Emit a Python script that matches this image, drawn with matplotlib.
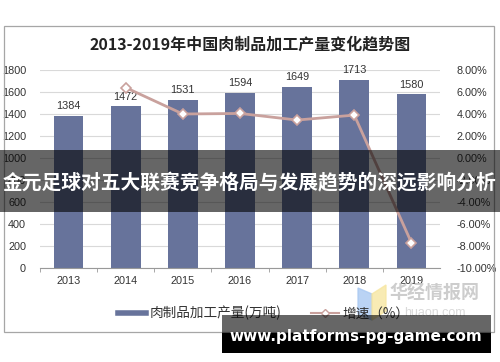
import matplotlib
matplotlib.use("Agg")
import matplotlib.pyplot as plt
from matplotlib.patches import Rectangle, Polygon
from matplotlib.lines import Line2D
from matplotlib.ticker import FuncFormatter, MultipleLocator

years = ["2013", "2014", "2015", "2016", "2017", "2018", "2019"]
output = [1384, 1472, 1531, 1594, 1649, 1713, 1580]
growth_years = ["2014", "2015", "2016", "2017", "2018", "2019"]
growth = [6.4, 4.0, 4.05, 3.45, 3.9, -7.7]

title = "2013-2019年中国肉制品加工产量变化趋势图"
legend_labels = ["肉制品加工产量(万吨)", "增速（%）"]
banner = "金元足球对五大联赛竞争格局与发展趋势的深远影响分析"
site = "www.platforms-pg-game.com"

W, H = 500, 362
BAR = "#67739b"
LINE = "#c9a19d"
CJK = ["Noto Sans CJK SC", "DejaVu Sans"]
NUM = ["Liberation Sans", "DejaVu Sans"]

def fx(x):
    return x / W

def fy(y):
    return 1 - y / H

fig = plt.figure(figsize=(5, 3.62), dpi=100)
fig.patch.set_facecolor("white")

# outer frame
fig.add_artist(Rectangle((fx(4), fy(332)), fx(490), (332 - 26) / H,
                         transform=fig.transFigure, fill=False,
                         edgecolor="#a6a6a6", linewidth=0.9))

ax = fig.add_axes([fx(40), fy(268), fx(400), (268 - 70) / H])
x = list(range(len(years)))
ax.bar(x, output, width=0.52, color=BAR, zorder=2)
ax.set_ylim(0, 1800)
ax.set_xlim(-0.5, len(years) - 0.5)
ax.yaxis.set_major_locator(MultipleLocator(200))
ax.grid(axis="y", color="#d9d9d9", linewidth=0.8, zorder=0)
for s in ["top", "right", "left"]:
    ax.spines[s].set_visible(False)
ax.spines["bottom"].set_color("#999999")
ax.tick_params(axis="y", length=0, pad=10, labelsize=7.8, labelcolor="#333333")
ax.set_xticks(x)
ax.set_xticklabels(years)
ax.tick_params(axis="x", length=0, pad=6, labelsize=7.8, labelcolor="#333333")
ax.set_xticks([i + 0.5 for i in x[:-1]] + [-0.5], minor=True)
ax.tick_params(axis="x", which="minor", length=3, color="#999999")
for lab in ax.get_xticklabels() + ax.get_yticklabels():
    lab.set_family(NUM)
for xi, v in zip(x, output):
    ax.text(xi, v + 40, str(v), ha="center", va="bottom", fontsize=7.8,
            family=NUM, color="#333333")

ax2 = ax.twinx()
gx = [years.index(y) for y in growth_years]
ax2.plot(gx, growth, color=LINE, linewidth=2, marker="D", markersize=5.5,
         markerfacecolor="white", markeredgecolor=LINE, markeredgewidth=1.2,
         zorder=3)
ax2.set_ylim(-10, 8)
ax2.yaxis.set_major_locator(MultipleLocator(2))
ax2.yaxis.set_major_formatter(FuncFormatter(lambda v, p: f"{v:.2f}%"))
for s in ["top", "right", "left", "bottom"]:
    ax2.spines[s].set_visible(False)
ax2.tick_params(axis="y", length=0, pad=12, labelsize=7.8, labelcolor="#333333")
for lab in ax2.get_yticklabels():
    lab.set_family(NUM)

fig.text(0.5, fy(45), title, ha="center", va="center", fontsize=11.5,
         fontweight="bold", family=CJK, color="#222222")

# legend
handles = [
    Line2D([0], [0], color=BAR, linewidth=4),
    Line2D([0], [0], color=LINE, linewidth=1.5, marker="D", markersize=4.5,
           markerfacecolor="white", markeredgecolor=LINE),
]
leg = fig.legend(handles, legend_labels, loc="center", ncol=2,
                 bbox_to_anchor=(fx(264), fy(313)), frameon=False,
                 prop={"family": CJK, "size": 9.8}, handlelength=2.0,
                 handletextpad=0.3, columnspacing=2.2)
for t in leg.get_texts():
    t.set_color("#333333")

# logo watermark
fig.add_artist(Polygon([[fx(358), fy(288)], [fx(372), fy(294)], [fx(372), fy(320)], [fx(358), fy(314)]],
                       closed=True, transform=fig.transFigure, color="#a9c9f2", alpha=0.8, zorder=5))
fig.add_artist(Polygon([[fx(372), fy(294)], [fx(386), fy(285)], [fx(386), fy(311)], [fx(372), fy(320)]],
                       closed=True, transform=fig.transFigure, color="#f7e6a2", alpha=0.8, zorder=5))
fig.text(fx(435), fy(293), "华经情报网", ha="center", va="center", fontsize=13,
         fontweight="bold", family=CJK, color="#c8c8c8", alpha=0.9, zorder=5)
fig.text(fx(435), fy(313), "huaon.com", ha="center", va="center", fontsize=9,
         family=NUM, color="#d9d9d9", zorder=5)

# banner
fig.add_artist(Rectangle((0, fy(212)), 1, (212 - 150) / H, transform=fig.transFigure,
                         facecolor="black", alpha=0.6, edgecolor="none", zorder=10))
fig.text(0.5, fy(183), banner, ha="center", va="center", fontsize=14.2,
         fontweight="bold", family=CJK, color="white", zorder=11)

# bottom site box
fig.add_artist(Rectangle((fx(222), fy(333)), fx(269), (333 - 315) / H, transform=fig.transFigure,
                         facecolor="black", alpha=0.6, edgecolor="none", zorder=10))
fig.add_artist(Rectangle((fx(222), fy(353)), fx(269), (353 - 333) / H, transform=fig.transFigure,
                         facecolor="black", edgecolor="none", zorder=10))
fig.text(fx(356), fy(337), site, ha="center", va="center", fontsize=11,
         fontweight="bold", family=["DejaVu Sans"], color="white", zorder=11)

fig.savefig("out.png", dpi=100, facecolor="white")
